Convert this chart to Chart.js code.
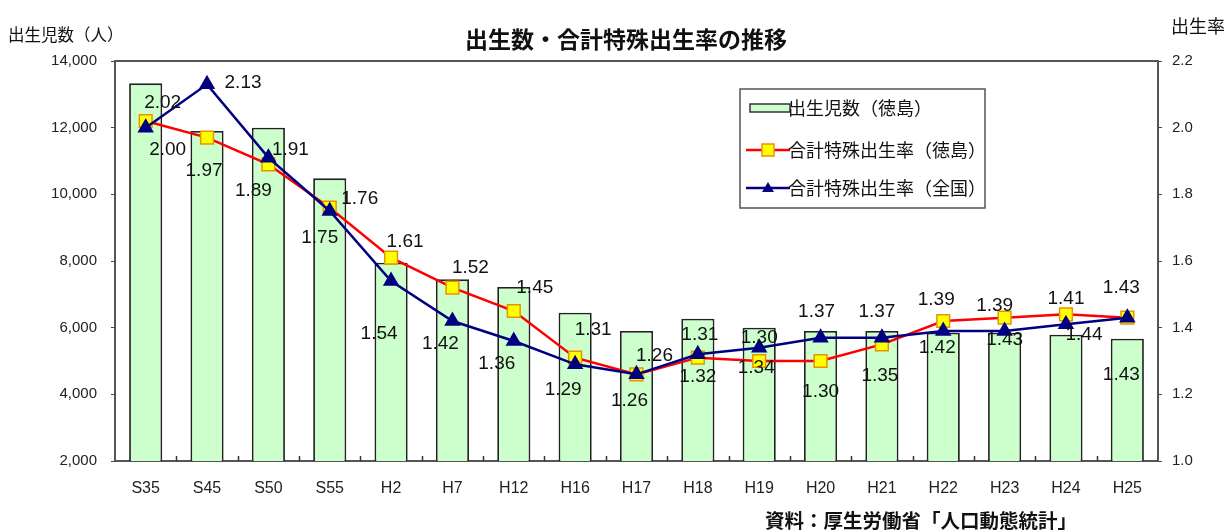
<!DOCTYPE html>
<html lang="ja">
<head>
<meta charset="utf-8">
<title>出生数・合計特殊出生率の推移</title>
<script src="https://cdn.jsdelivr.net/npm/chart.js@4.4.1/dist/chart.umd.min.js"></script>
<style>
  html, body { margin: 0; padding: 0; background: #fff; }
  #wrap { width: 1226px; height: 530px; position: relative; }
</style>
</head>
<body>
<div id="wrap"><canvas id="chart" width="1226" height="530"></canvas></div>
<script>
const categories = ['S35', 'S45', 'S50', 'S55', 'H2', 'H7', 'H12', 'H16', 'H17', 'H18', 'H19', 'H20', 'H21', 'H22', 'H23', 'H24', 'H25'];
const births = [13330, 11900, 12000, 10480, 7950, 7450, 7220, 6450, 5900, 6270, 6000, 5900, 5900, 5850, 5850, 5790, 5670];
const rateTokushima = [2.02, 1.97, 1.89, 1.76, 1.61, 1.52, 1.45, 1.31, 1.26, 1.31, 1.30, 1.30, 1.35, 1.42, 1.43, 1.44, 1.43];
const rateNational = [2.00, 2.13, 1.91, 1.75, 1.54, 1.42, 1.36, 1.29, 1.26, 1.32, 1.34, 1.37, 1.37, 1.39, 1.39, 1.41, 1.43];
const seriesNames = ['出生児数（徳島）', '合計特殊出生率（徳島）', '合計特殊出生率（全国）'];

// where each value label sits relative to its marker (dx, dy)
const redLabelOffsets = [[17, -18], [-3, 33], [-15, 26], [30, -9], [14, -16], [18, -20], [21, -23], [18, -28], [18, -19], [2, -23], [0, -23], [0, 31], [-2, 31], [-6, 27], [0, 22], [18, 20], [-6, 57]];
const blueLabelOffsets = [[22, 22], [36, -2], [22, -8], [-10, 27], [-12, 53], [-12, 23], [-17, 23], [-12, 25], [-7, 26], [0, 22], [-3, 20], [-4, -26], [-5, -26], [-7, -31], [-10, -25], [0, -26], [-6, -30]];

const CJK = '"Noto Sans CJK JP", sans-serif';
const TICKS = '"Liberation Sans", Arial, sans-serif';

const decorations = {
  id: 'decorations',
  beforeDatasetsDraw(chart) {
    const { ctx, chartArea: a } = chart;
    ctx.save();
    ctx.strokeStyle = '#555';
    ctx.lineWidth = 2;
    ctx.strokeRect(a.left, a.top, a.right - a.left, a.bottom - a.top);
    // small tick marks between categories, pointing up
    const step = (a.right - a.left) / categories.length;
    ctx.strokeStyle = '#333';
    ctx.lineWidth = 1.5;
    for (let i = 1; i < categories.length; i++) {
      const x = Math.round(a.left + step * i) + 0.5;
      ctx.beginPath();
      ctx.moveTo(x, a.bottom);
      ctx.lineTo(x, a.bottom - 5);
      ctx.stroke();
    }
    ctx.restore();
  },
  afterDatasetsDraw(chart) {
    const { ctx } = chart;
    ctx.save();
    ctx.font = '19px "Liberation Sans", sans-serif';
    ctx.fillStyle = '#111';
    ctx.textAlign = 'center';
    ctx.textBaseline = 'middle';
    [[1, rateTokushima, redLabelOffsets], [2, rateNational, blueLabelOffsets]].forEach(([idx, values, offsets]) => {
      chart.getDatasetMeta(idx).data.forEach((pt, i) => {
        ctx.fillText(values[i].toFixed(2), pt.x + offsets[i][0], pt.y + offsets[i][1]);
      });
    });
    ctx.restore();
  },
  afterDraw(chart) {
    const { ctx } = chart;
    ctx.save();
    ctx.fillStyle = '#111';
    ctx.textBaseline = 'middle';

    ctx.textAlign = 'center';
    ctx.font = 'bold 23px ' + CJK;
    ctx.fillText('出生数・合計特殊出生率の推移', 626, 39);

    ctx.textAlign = 'left';
    ctx.font = '16.5px ' + CJK;
    ctx.fillText('出生児数（人）', 8, 35);
    ctx.font = '18px ' + CJK;
    ctx.fillText('出生率', 1171, 26);

    ctx.font = 'bold 19.5px ' + CJK;
    ctx.fillText('資料：厚生労働省「人口動態統計」', 765, 521);

    // legend box
    ctx.fillStyle = '#fff';
    ctx.fillRect(740, 89, 245, 119);
    ctx.strokeStyle = '#555';
    ctx.lineWidth = 1.5;
    ctx.strokeRect(740, 89, 245, 119);

    ctx.fillStyle = '#ccffcc';
    ctx.fillRect(750, 104, 40, 8);
    ctx.strokeStyle = '#333';
    ctx.lineWidth = 1.5;
    ctx.strokeRect(750, 104, 40, 8);

    ctx.strokeStyle = '#ff0000';
    ctx.lineWidth = 2.5;
    ctx.beginPath(); ctx.moveTo(746, 150); ctx.lineTo(790, 150); ctx.stroke();
    ctx.fillStyle = '#ffff00';
    ctx.fillRect(762, 144, 12, 12);
    ctx.strokeStyle = '#e69500';
    ctx.lineWidth = 1.5;
    ctx.strokeRect(762, 144, 12, 12);

    ctx.strokeStyle = '#000080';
    ctx.lineWidth = 2.5;
    ctx.beginPath(); ctx.moveTo(746, 188); ctx.lineTo(790, 188); ctx.stroke();
    ctx.fillStyle = '#000080';
    ctx.beginPath(); ctx.moveTo(768, 182); ctx.lineTo(774, 192); ctx.lineTo(762, 192); ctx.closePath(); ctx.fill();

    ctx.fillStyle = '#111';
    ctx.font = '18px ' + CJK;
    ctx.fillText(seriesNames[0], 788, 108);
    ctx.fillText(seriesNames[1], 788, 150);
    ctx.fillText(seriesNames[2], 788, 188);
    ctx.restore();
  }
};

new Chart(document.getElementById('chart'), {
  data: {
    labels: categories,
    datasets: [
      {
        type: 'bar',
        label: seriesNames[0],
        data: births,
        yAxisID: 'yBirths',
        backgroundColor: '#ccffcc',
        borderColor: '#222',
        borderWidth: 1.8,
        categoryPercentage: 1,
        barPercentage: 0.54,
        order: 3
      },
      {
        type: 'line',
        label: seriesNames[1],
        data: rateTokushima,
        yAxisID: 'yRate',
        borderColor: '#ff0000',
        borderWidth: 2.5,
        pointStyle: 'rect',
        pointRadius: 9,
        pointBackgroundColor: '#ffff00',
        pointBorderColor: '#e69500',
        pointBorderWidth: 1.5,
        tension: 0,
        order: 2
      },
      {
        type: 'line',
        label: seriesNames[2],
        data: rateNational,
        yAxisID: 'yRate',
        borderColor: '#000080',
        borderWidth: 2.5,
        pointStyle: 'triangle',
        pointRadius: 7,
        pointBackgroundColor: '#000080',
        pointBorderColor: '#000080',
        tension: 0,
        order: 1
      }
    ]
  },
  options: {
    responsive: false,
    animation: false,
    devicePixelRatio: 1,
    layout: { padding: { top: 61, left: 0, right: 0, bottom: 0 } },
    plugins: {
      legend: { display: false },
      tooltip: { enabled: false }
    },
    scales: {
      x: {
        grid: { display: false },
        border: { display: true, color: '#222', width: 2 },
        ticks: { color: '#222', font: { family: TICKS, size: 16 }, padding: 10, maxRotation: 0 },
        afterFit(scale) { scale.height = 69; }
      },
      yBirths: {
        position: 'left',
        min: 2000,
        max: 14000,
        grid: { drawOnChartArea: false, color: '#444', tickLength: 4 },
        border: { display: true, color: '#444', width: 2 },
        ticks: {
          stepSize: 2000,
          color: '#222',
          font: { family: TICKS, size: 15 },
          padding: 14,
          callback: (v) => v.toLocaleString('en-US')
        },
        afterFit(scale) { scale.width = 115; }
      },
      yRate: {
        position: 'right',
        min: 1.0,
        max: 2.2,
        grid: { drawOnChartArea: false, color: '#444', tickLength: 4 },
        border: { display: true, color: '#444', width: 2 },
        ticks: {
          stepSize: 0.2,
          color: '#222',
          font: { family: TICKS, size: 15 },
          padding: 10,
          callback: (v) => v.toFixed(1)
        },
        afterFit(scale) { scale.width = 68; }
      }
    }
  },
  plugins: [decorations]
});
</script>
</body>
</html>
